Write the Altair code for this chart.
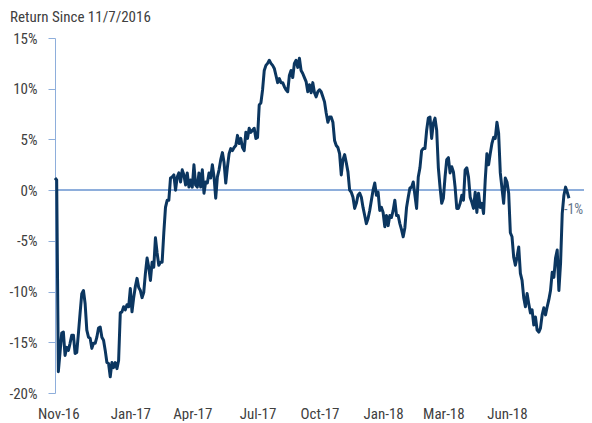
import altair as alt
import pandas as pd

# Cumulative return (%) since 11/7/2016, in time order
seg_nov16_feb17 = [1.2, 1.0, -17.9, -16.0, -14.1, -14.0, -16.3, -15.5, -15.8, -15.1,
                   -14.3, -14.3, -16.1, -16.0, -14.1, -12.1, -10.2, -9.9, -11.2, -13.8,
                   -14.5, -14.6, -15.6, -15.1, -15.1, -14.5, -13.6, -13.5, -14.5, -14.8,
                   -15.8, -17.0, -17.1, -18.4, -17.0, -17.5, -17.0, -17.6, -16.8, -12.1,
                   -12.0, -11.5, -11.8, -11.3, -11.5, -9.7, -12.0, -10.6, -9.5, -8.7,
                   -9.6, -9.9, -10.6, -10.1, -8.2, -6.7, -7.6, -8.9]
seg_feb17_jul17 = [-7.1, -7.6, -4.7, -6.2, -7.4, -7.1, -7.1, -4.2, -1.7, -1.0,
                   -1.0, 1.2, 1.3, 1.5, 0.0, 1.3, 1.7, 0.8, 2.0, 1.5,
                   0.5, 1.7, 0.3, 1.0, 0.3, 2.5, 0.5, 0.3, 1.7, 0.3,
                   2.0, -0.3, 0.8, 0.7, 1.7, 1.2, 2.5, 1.3, -0.8, 1.3,
                   2.0, 3.0, 3.7, 2.7, 0.7, 2.3, 3.6, 4.1, 3.9, 4.2,
                   4.4, 5.4, 4.6, 5.1]
seg_jul17_nov17 = [4.2, 3.9, 5.7, 5.1, 6.1, 5.7, 5.9, 6.1, 5.1, 5.2,
                   8.4, 8.6, 9.9, 11.8, 12.3, 12.5, 12.8, 12.5, 12.3, 12.0,
                   11.3, 10.6, 11.0, 10.6, 10.6, 10.2, 9.9, 9.7, 11.3, 11.8,
                   11.1, 12.5, 12.8, 12.1, 13.0, 11.8, 11.5, 11.1, 10.7, 9.7,
                   10.4, 9.6, 10.6, 9.6, 9.2, 9.7, 9.9, 9.7, 9.2, 8.7,
                   7.6, 6.7, 7.2, 7.2, 6.7, 4.9, 4.4, 4.2]
seg_nov17_feb18 = [3.6, 1.5, 3.0, 3.5, 2.7, 1.8, 0.0, -0.2, -0.7, -1.8,
                   -1.3, -0.5, -0.3, -0.7, -1.7, -2.5, -3.3, -2.8, -2.0, -1.0,
                   0.0, 0.7, -0.5, -0.2, -2.0, -1.7, -2.2, -3.6, -2.5, -3.5,
                   -2.5, -2.7, -2.0, -1.0, -2.5, -2.5, -3.3, -3.9, -4.6, -3.7,
                   -1.7, -0.7, 0.2, 0.3, 0.8, -0.5, -1.8, 1.3, 2.2, 3.9,
                   4.1, 4.1, 5.9, 7.1, 7.2, 5.1, 6.6]
seg_feb18_jun18 = [7.1, 5.9, 2.2, 0.3, -1.3, -0.8, 1.3, 3.0, 3.2, 1.7,
                   2.3, 1.8, 0.3, -1.8, -1.8, -1.3, -0.5, -1.0, 2.0, 2.2,
                   1.3, -0.7, -1.2, -1.8, -0.2, -2.2, -0.3, -1.7, -1.3, -2.3,
                   1.0, 3.6, 2.5, 3.6, 4.6, 5.2, 5.1, 6.7, 5.6, 1.7,
                   0.2, -1.3, 1.2, 0.8, -0.3, -4.2, -4.6, -6.6, -7.4, -6.6,
                   -5.6, -8.2, -8.9]
seg_jun18_end = [-10.6, -11.5, -10.2, -11.2, -12.1, -11.8, -13.3, -12.5, -13.8, -14.0,
                 -13.6, -12.3, -11.6, -12.3, -11.5, -10.8, -9.9, -8.1, -8.6, -6.7,
                 -5.9, -9.9, -7.2, -2.3, -0.5, 0.3, -0.2, -0.8]

returns = (seg_nov16_feb17 + seg_feb17_jul17 + seg_jul17_nov17
           + seg_nov17_feb18 + seg_feb18_jun18 + seg_jun18_end)

tick_idx = [2, 45, 82, 121, 158, 196, 232, 270]
tick_labels = ["Nov-16", "Jan-17", "Apr-17", "Jul-17", "Oct-17", "Jan-18", "Mar-18", "Jun-18"]
y_ticks = [-20, -15, -10, -5, 0, 5, 10, 15]
end_label = "-1%"
title_text = "Return Since 11/7/2016"

df = pd.DataFrame({"i": list(range(len(returns))), "ret": returns})
end_df = pd.DataFrame({"i": [len(returns) - 1], "ret": [returns[-1]], "lab": [end_label]})

FONT = "Roboto Condensed, Liberation Sans Narrow, Arial Narrow, Roboto, sans-serif"
NAVY = "#0b3660"
LIGHT = "#8eaedb"

label_expr = "[" + ",".join(f"'{t}'" for t in tick_labels) + "][indexof([" + \
    ",".join(str(v) for v in tick_idx) + "], datum.value)]"

x_scale = alt.Scale(domain=[0, 316], nice=False, zero=False)
y_scale = alt.Scale(domain=[-20, 15], nice=False)

x_enc = alt.X("i:Q", scale=x_scale,
              axis=alt.Axis(values=tick_idx, labelExpr=label_expr, title=None,
                            domain=False, ticks=False, grid=False, labelPadding=13,
                            labelFlush=False, labelOverlap=False, labelBound=False,
                            labelFontSize=15, labelFont=FONT, labelColor="#404040"))
y_enc = alt.Y("ret:Q", scale=y_scale,
              axis=alt.Axis(values=y_ticks, labelExpr="datum.value + '%'", title=None,
                            grid=False, domainColor=LIGHT, tickColor=LIGHT, tickSize=7,
                            labelPadding=11, labelFontSize=15, labelFont=FONT,
                            labelColor="#404040"))

zero = alt.Chart(df).mark_rule(color=LIGHT, strokeWidth=1.2).encode(y=alt.datum(0))

line = alt.Chart(df).mark_line(color=NAVY, strokeWidth=3, strokeJoin="round").encode(
    x=x_enc, y=y_enc)

end_text = alt.Chart(end_df).mark_text(
    align="left", baseline="middle", dx=-5, dy=12, fontSize=14, font=FONT, color="#63748a"
).encode(x=alt.X("i:Q", scale=x_scale), y=alt.Y("ret:Q", scale=y_scale), text="lab:N")

chart = alt.layer(zero, line, end_text).properties(
    width=529, height=355,
    padding={"left": 47, "top": 30, "right": 0, "bottom": 28},
    autosize=alt.AutoSizeParams(type="none"),
    title=alt.TitleParams(title_text, anchor="start", frame="group", dx=-45, offset=6,
                          fontSize=15, font=FONT, fontWeight="normal", color="#404040"),
).configure_view(strokeWidth=0)

chart.save("out.html", embed_options={"renderer": "svg", "actions": False})
